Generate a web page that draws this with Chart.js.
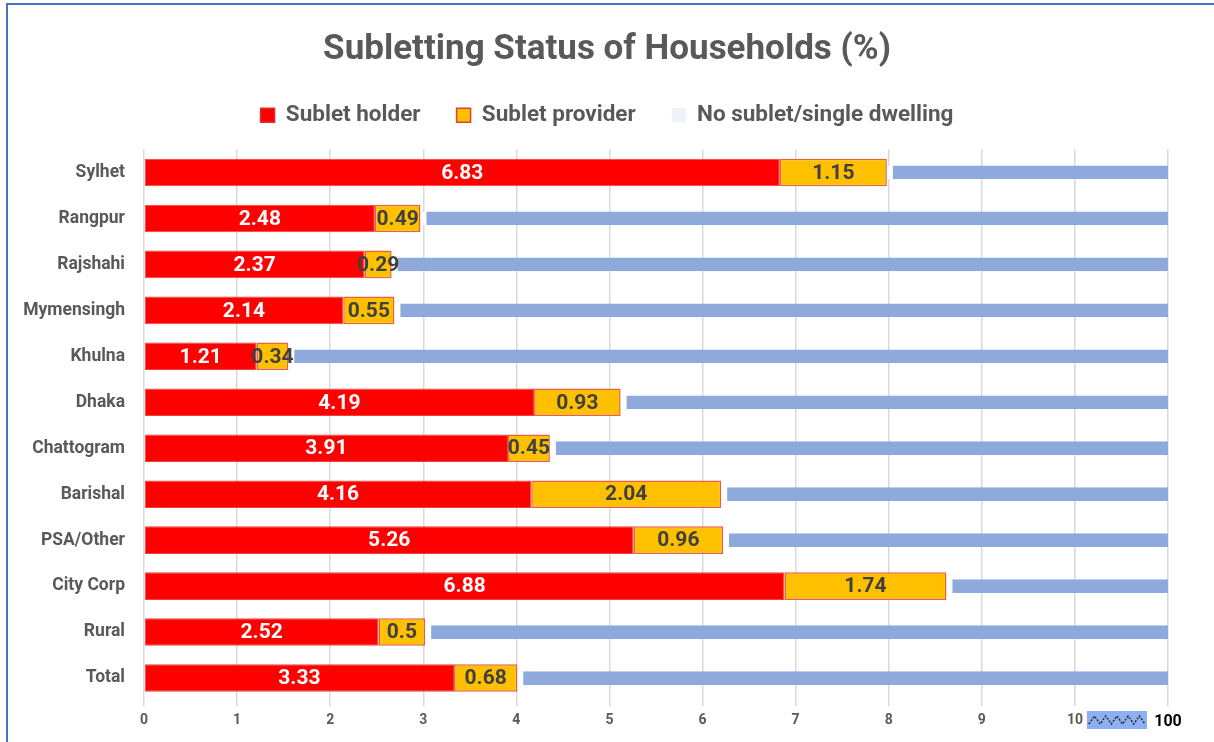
<!DOCTYPE html>
<html>
<head>
<meta charset="utf-8">
<script src="https://cdn.jsdelivr.net/npm/chart.js@4.4.1/dist/chart.umd.min.js"></script>
<style>
  html, body { margin: 0; padding: 0; background: #fff; overflow: hidden; }
  #frame { position: absolute; left: 6px; top: 3px; width: 1300px; height: 800px; border: 2px solid #4472c4; box-sizing: border-box; }
  #wrap { position: absolute; left: 0; top: 0; width: 1214px; height: 742px; }
</style>
</head>
<body>
<div id="frame"></div>
<div id="wrap"><canvas id="grafico"></canvas></div>
<script>
// dados
const regioes = ['Sylhet', 'Rangpur', 'Rajshahi', 'Mymensingh', 'Khulna', 'Dhaka', 'Chattogram', 'Barishal', 'PSA/Other', 'City Corp', 'Rural', 'Total'];
const subletHolder = [6.83, 2.48, 2.37, 2.14, 1.21, 4.19, 3.91, 4.16, 5.26, 6.88, 2.52, 3.33];
const subletProvider = [1.15, 0.49, 0.29, 0.55, 0.34, 0.93, 0.45, 2.04, 0.96, 1.74, 0.5, 0.68];
const noSublet = [92.02, 97.03, 97.34, 97.31, 98.45, 94.88, 95.64, 93.8, 93.78, 91.38, 96.98, 95.99];
const tickLabels = ['0', '1', '2', '3', '4', '5', '6', '7', '8', '9', '10', '100'];

const fonte = 'Roboto, "Noto Sans", sans-serif';
const cinza = '#595959';

// rotulos dentro das barras
const rotulosPlugin = {
    id: 'rotulos',
    afterDatasetsDraw(chart) {
        const ctx = chart.ctx;
        ctx.save();
        ctx.font = 'bold 21px ' + fonte;
        ctx.textAlign = 'center';
        ctx.textBaseline = 'middle';
        [0, 1].forEach(i => {
            const meta = chart.getDatasetMeta(i);
            meta.data.forEach((el, j) => {
                const p = el.getCenterPoint();
                ctx.fillStyle = i === 0 ? '#ffffff' : '#404040';
                ctx.fillText(String(chart.data.datasets[i].data[j]), p.x, p.y + 1);
            });
        });
        ctx.restore();
    }
};

// espaco extra abaixo da legenda
const legendaPlugin = {
    id: 'espacoLegenda',
    beforeLayout(chart) {
        const lg = chart.legend;
        if (lg && !lg._ajustada) {
            const fitOriginal = lg.fit.bind(lg);
            lg.fit = function () { fitOriginal(); this.height += 13; };
            lg._ajustada = true;
        }
    }
};

// marca de quebra do eixo entre 10 e 100
const quebraPlugin = {
    id: 'quebra',
    afterDraw(chart) {
        const x = chart.scales.x;
        const ctx = chart.ctx;
        const x0 = x.getPixelForValue(10) + 12;
        const x1 = x.getPixelForValue(11) - 21;
        const y0 = chart.chartArea.bottom + 10;
        const h = 18;
        ctx.save();
        ctx.fillStyle = '#8fb0f0';
        ctx.fillRect(x0, y0, x1 - x0, h);
        ctx.strokeStyle = '#222';
        ctx.lineWidth = 1.4;
        ctx.setLineDash([2, 1.5]);
        ctx.beginPath();
        const passos = 10;
        for (let k = 0; k <= passos; k++) {
            const px = x0 + 2 + k * (x1 - x0 - 4) / passos;
            const py = y0 + h / 2 + (k % 2 === 0 ? 4 : -4);
            if (k === 0) ctx.moveTo(px, py); else ctx.lineTo(px, py);
        }
        ctx.stroke();
        ctx.restore();
    }
};

new Chart(document.getElementById('grafico'), {
    type: 'bar',
    data: {
        labels: regioes,
        datasets: [{
            label: 'Sublet holder',
            data: subletHolder,
            backgroundColor: '#ff0000',
            borderColor: '#e8453c',
            borderWidth: 1,
            borderSkipped: false,
            barPercentage: 0.6,
            categoryPercentage: 1
        }, {
            label: 'Sublet provider',
            data: subletProvider,
            backgroundColor: '#ffc000',
            borderColor: '#e8603c',
            borderWidth: 1.5,
            borderSkipped: false,
            barPercentage: 0.6,
            categoryPercentage: 1
        }, {
            label: 'No sublet/single dwelling',
            data: noSublet,
            backgroundColor: '#8eaadc',
            borderColor: '#ffffff',
            borderWidth: { left: 6, right: 0, top: 0, bottom: 0 },
            borderSkipped: false,
            barPercentage: 0.3,
            categoryPercentage: 1
        }]
    },
    options: {
        indexAxis: 'y',
        responsive: true,
        maintainAspectRatio: false,
        animation: false,
        layout: { padding: 0 },
        scales: {
            x: {
                stacked: true,
                min: 0,
                max: 11,
                afterFit: s => { s.height = 41; },
                ticks: {
                    stepSize: 1,
                    padding: 6,
                    callback: (v, i) => tickLabels[i],
                    color: c => c.tick && c.tick.value === 11 ? '#000' : cinza,
                    font: c => ({ family: fonte, weight: 'bold', size: c.tick && c.tick.value === 11 ? 16 : 14 })
                },
                grid: { color: '#d9d9d9', lineWidth: 1.5, tickLength: 5 },
                border: { display: false }
            },
            y: {
                stacked: true,
                afterFit: s => { s.width = 144; },
                ticks: { color: cinza, padding: 19, font: { family: fonte, weight: 'bold', size: 17.5 } },
                grid: { display: false, drawTicks: false },
                border: { display: false }
            },
            // eixo vazio a direita, so para reservar a margem
            margemDireita: {
                axis: 'y',
                type: 'category',
                position: 'right',
                afterFit: s => { s.width = 46; },
                ticks: { display: false },
                grid: { display: false, drawTicks: false },
                border: { display: false }
            }
        },
        plugins: {
            title: {
                display: true,
                text: 'Subletting Status of Households (%)',
                color: cinza,
                font: { family: fonte, weight: 'bold', size: 35 },
                padding: { top: 29, bottom: -3 }
            },
            legend: {
                labels: {
                    color: cinza,
                    boxWidth: 14,
                    boxHeight: 14,
                    padding: 36,
                    font: { family: fonte, weight: 'bold', size: 22.5 },
                    generateLabels: chart => chart.data.datasets.map((d, i) => ({
                        text: d.label,
                        fillStyle: i === 2 ? 'rgba(142,170,220,0.15)' : d.backgroundColor,
                        strokeStyle: i === 0 ? '#d83030' : (i === 1 ? '#e0402c' : 'rgba(0,0,0,0)'),
                        lineWidth: i === 2 ? 0 : 1.5,
                        fontColor: cinza,
                        datasetIndex: i
                    }))
                }
            },
            tooltip: { enabled: false }
        }
    },
    plugins: [legendaPlugin, rotulosPlugin, quebraPlugin]
});
</script>
</body>
</html>
